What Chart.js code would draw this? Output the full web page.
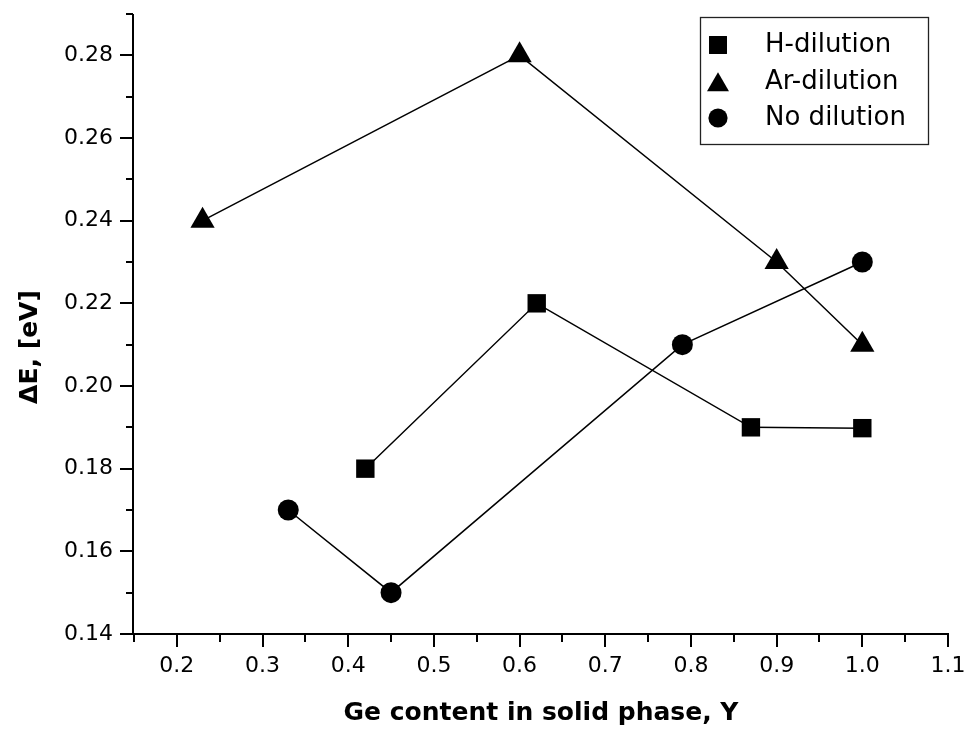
<!DOCTYPE html>
<html>
<head>
<meta charset="utf-8">
<title>ΔE vs Ge content</title>
<script src="https://cdn.jsdelivr.net/npm/chart.js@4/dist/chart.umd.min.js"></script>
<style>
  html, body { margin: 0; padding: 0; background: #fff; }
  canvas { display: block; }
</style>
</head>
<body>
<canvas id="chart" width="968" height="731"></canvas>
<script>
// Activation energy ΔE against Ge content for three dilution regimes
const seriesNames = ['H-dilution', 'Ar-dilution', 'No dilution'];

const hDilutionX = [0.42, 0.62, 0.87, 1.0];
const hDilutionY = [0.18, 0.22, 0.19, 0.1898];

const arDilutionX = [0.23, 0.60, 0.90, 1.0];
const arDilutionY = [0.24, 0.28, 0.23, 0.21];

const noDilutionX = [0.33, 0.45, 0.79, 1.0];
const noDilutionY = [0.17, 0.15, 0.21, 0.23];

// axis ranges and tick steps (minor step; every second tick is labelled)
const xRange = [0.15, 1.1];
const xStep = 0.05;
const yRange = [0.14, 0.29];
const yStep = 0.01;
const yMajorMax = 0.28;

const xTitle = 'Ge content in solid phase, Y';
const yTitle = 'ΔE, [eV]';

const FONT = '"DejaVu Sans", "Liberation Sans", Arial, sans-serif';

const toPoints = (xs, ys) => xs.map((x, i) => ({ x, y: ys[i] }));

const isMajorX = v => Math.round(v * 100) % 10 === 0;
const isMajorY = v => Math.round(v * 100) % 2 === 0 && v <= yMajorMax + 1e-9;

// keep the plot frame fixed: no extra room reserved for overhanging labels
const fixBox = size => s => {
  Object.assign(s, size);
  s.paddingTop = 0;
  s.paddingBottom = 0;
  s.paddingLeft = 0;
  s.paddingRight = 0;
};

// Axis lines with outward major/minor tick marks
const axesPlugin = {
  id: 'plotAxes',
  beforeDatasetsDraw(chart) {
    const { ctx, chartArea: a, scales: { x, y } } = chart;
    ctx.save();
    ctx.strokeStyle = '#000';
    ctx.lineWidth = 2;
    ctx.lineCap = 'butt';
    ctx.beginPath();
    ctx.moveTo(a.left - 1, a.top);
    ctx.lineTo(a.left - 1, a.bottom + 1);
    ctx.moveTo(a.left - 2, a.bottom);
    ctx.lineTo(a.right + 1, a.bottom);
    x.ticks.forEach(t => {
      const px = Math.round(x.getPixelForValue(t.value));
      const len = isMajorX(t.value) ? 13 : 8;
      ctx.moveTo(px, a.bottom);
      ctx.lineTo(px, a.bottom + len);
    });
    y.ticks.forEach(t => {
      const py = Math.round(y.getPixelForValue(t.value));
      const len = isMajorY(t.value) ? 13 : 7;
      ctx.moveTo(a.left - 1, py);
      ctx.lineTo(a.left - 1 - len, py);
    });
    ctx.stroke();
    ctx.restore();
  },
  afterDraw(chart) {
    const { ctx } = chart;
    // rotated y-axis title
    ctx.save();
    ctx.translate(30, 347);
    ctx.rotate(-Math.PI / 2);
    ctx.font = 'bold 25px ' + FONT;
    ctx.fillStyle = '#000';
    ctx.textAlign = 'center';
    ctx.textBaseline = 'middle';
    ctx.fillText(yTitle, 0, 0);
    ctx.restore();

    // boxed legend in the upper right corner
    ctx.save();
    ctx.strokeStyle = '#222';
    ctx.lineWidth = 1.3;
    ctx.strokeRect(700.5, 17.5, 228, 127);
    const rows = [45, 82, 118];
    const legendRadius = [12.7, 12.7, 9.6];
    chart.data.datasets.forEach((ds, i) => {
      const opts = {
        pointStyle: ds.pointStyle,
        radius: legendRadius[i],
        rotation: 0,
        borderWidth: 0
      };
      ctx.fillStyle = '#000';
      ctx.strokeStyle = '#000';
      const yy = i === 1 ? rows[i] + 3 : rows[i];
      Chart.helpers.drawPoint(ctx, opts, 718, yy);
      ctx.fillStyle = '#000';
      ctx.font = '26px ' + FONT;
      ctx.textAlign = 'left';
      ctx.textBaseline = 'middle';
      ctx.fillText(ds.label, 765, rows[i]);
    });
    ctx.restore();
  }
};

const makeSet = (label, xs, ys, style, radius) => ({
  label,
  data: toPoints(xs, ys),
  borderColor: '#000',
  borderWidth: 1.5,
  backgroundColor: '#000',
  pointStyle: style,
  pointRadius: radius,
  pointBorderWidth: 0,
  pointBackgroundColor: '#000',
  pointBorderColor: '#000',
  fill: false,
  tension: 0
});

new Chart(document.getElementById('chart'), {
  type: 'line',
  data: {
    datasets: [
      makeSet(seriesNames[0], hDilutionX, hDilutionY, 'rect', 13),
      makeSet(seriesNames[1], arDilutionX, arDilutionY, 'triangle', 14),
      makeSet(seriesNames[2], noDilutionX, noDilutionY, 'circle', 10.5)
    ]
  },
  options: {
    responsive: false,
    animation: false,
    devicePixelRatio: 1,
    layout: { padding: { left: 0, top: 13, right: 20, bottom: 0 } },
    plugins: {
      legend: { display: false },
      tooltip: { enabled: false }
    },
    scales: {
      x: {
        type: 'linear',
        min: xRange[0],
        max: xRange[1],
        grid: { display: false, drawTicks: false, tickLength: 0 },
        border: { display: false },
        ticks: {
          stepSize: xStep,
          autoSkip: false,
          maxRotation: 0,
          padding: 19,
          color: '#000',
          font: { family: FONT, size: 22 },
          callback: v => (isMajorX(v) ? v.toFixed(1) : '')
        },
        title: {
          display: true,
          text: xTitle,
          color: '#000',
          font: { family: FONT, size: 25, weight: 'bold' },
          padding: { top: 0, bottom: 3 }
        },
        afterFit: fixBox({ height: 97 })
      },
      y: {
        type: 'linear',
        min: yRange[0],
        max: yRange[1],
        grid: { display: false, drawTicks: false, tickLength: 0 },
        border: { display: false },
        ticks: {
          stepSize: yStep,
          autoSkip: false,
          padding: 21,
          color: '#000',
          font: { family: FONT, size: 22 },
          callback: v => (isMajorY(v) ? v.toFixed(2) : '')
        },
        afterFit: fixBox({ width: 134 })
      }
    }
  },
  plugins: [axesPlugin]
});
</script>
</body>
</html>
